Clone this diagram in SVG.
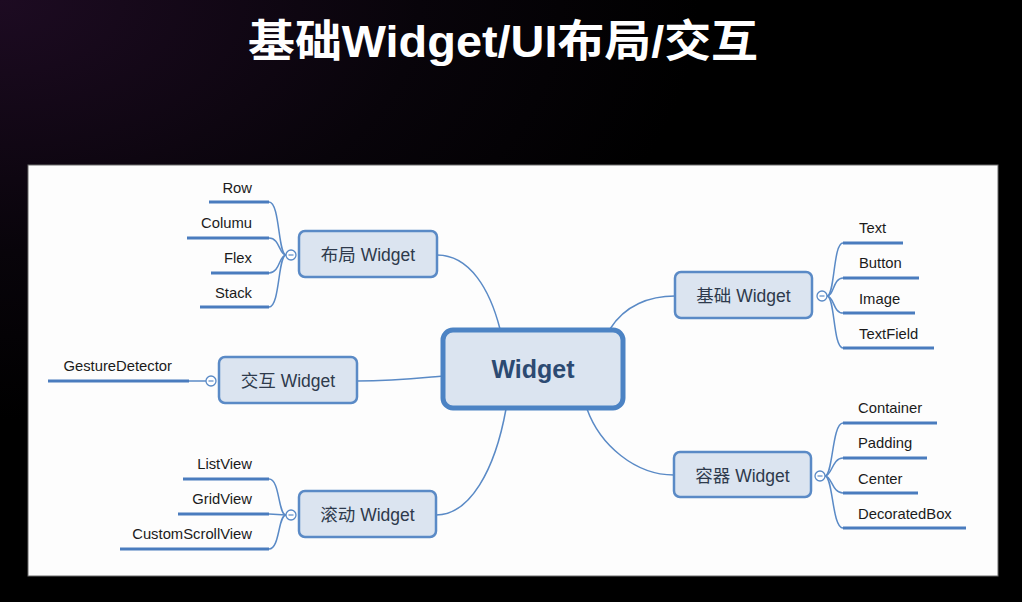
<svg xmlns="http://www.w3.org/2000/svg" width="1022" height="602" viewBox="0 0 1022 602">
  <defs>
    <radialGradient id="bgGlow" cx="0" cy="0" r="1" gradientUnits="userSpaceOnUse" gradientTransform="translate(0 0) scale(700 420)">
      <stop offset="0" stop-color="#1d0b22"/>
      <stop offset="0.6" stop-color="#08040a"/>
      <stop offset="1" stop-color="#000000"/>
    </radialGradient>
  </defs>
  <style>
    .title { font-family: "Liberation Sans", "Noto Sans CJK SC", sans-serif; font-weight: bold; font-size: 44px; fill: #ffffff; }
    .topic { fill: #dbe4f0; stroke: #5a8ac6; stroke-width: 2.5; }
    .root { fill: #dbe4f0; stroke: #4c83c4; stroke-width: 5; }
    .topic-label { font-family: "Liberation Sans", "Noto Sans CJK SC", sans-serif; font-size: 17.5px; fill: #2e3a4c; text-anchor: middle; }
    .root-label { font-family: "Liberation Sans", "Noto Sans CJK SC", sans-serif; font-weight: bold; font-size: 25px; fill: #2c4a72; text-anchor: middle; }
    .leaf { font-family: "Liberation Sans", sans-serif; font-size: 14.8px; fill: #1b1b1b; }
    .leaf-l { text-anchor: end; }
    .bar { stroke: #4a7cbe; stroke-width: 3; fill: none; }
    .link { stroke: #5a8ac6; stroke-width: 1.5; fill: none; }
    .fold { fill: #ffffff; stroke: #5a8ac6; stroke-width: 1.3; }
    .fold-minus { stroke: #5a8ac6; stroke-width: 1.2; }
  </style>

  <!-- backdrop -->
  <rect x="0" y="0" width="1022" height="602" fill="#000000"/>
  <rect x="0" y="0" width="1022" height="602" fill="url(#bgGlow)"/>
  <text class="title" x="503" y="57" text-anchor="middle" textLength="510" lengthAdjust="spacingAndGlyphs">基础Widget/UI布局/交互</text>

  <!-- canvas -->
  <rect x="28" y="165" width="970" height="411" fill="#fdfdfd" stroke="#6b6b6b" stroke-width="1"/>

  <!-- connectors -->
  <g id="connectors">
    <!-- root to topics -->
    <path class="link" d="M437,255 C470,255 490,290 500,329"/>
    <path class="link" d="M357,381 C395,381 420,378 443,376"/>
    <path class="link" d="M436,515 C470,515 495,470 506,409"/>
    <path class="link" d="M610,329 C625,305 650,296 675,296"/>
    <path class="link" d="M587,409 C600,445 635,475 674,475"/>

    <!-- 布局 Widget branches -->
    <path class="link" d="M286,255 C278,255 280,202 269,202"/>
    <path class="link" d="M286,255 C279,255 280,238 269,238"/>
    <path class="link" d="M286,255 C279,255 280,273 269,273"/>
    <path class="link" d="M286,255 C278,255 280,307 269,307"/>

    <!-- 交互 Widget branch -->
    <path class="link" d="M189,381 L206,381"/>

    <!-- 滚动 Widget branches -->
    <path class="link" d="M286,515 C278,515 280,479 269,479"/>
    <path class="link" d="M286,515 L269,514"/>
    <path class="link" d="M286,515 C278,515 280,549 269,549"/>

    <!-- 基础 Widget branches -->
    <path class="link" d="M827,296 C835,296 833,243 843,243"/>
    <path class="link" d="M827,296 C834,296 833,278 843,278"/>
    <path class="link" d="M827,296 C834,296 833,313 843,313"/>
    <path class="link" d="M827,296 C835,296 833,348 843,348"/>

    <!-- 容器 Widget branches -->
    <path class="link" d="M825,476 C833,476 832,423 843,423"/>
    <path class="link" d="M825,476 C832,476 832,458 843,458"/>
    <path class="link" d="M825,476 C832,476 832,493 843,493"/>
    <path class="link" d="M825,476 C833,476 832,528 843,528"/>
  </g>

  <!-- central topic -->
  <g id="node-widget">
    <rect class="root" x="443" y="330" width="180" height="78" rx="10"/>
    <text class="root-label" x="533" y="378">Widget</text>
  </g>

  <!-- 布局 Widget -->
  <g id="node-layout">
    <rect class="topic" x="299" y="231" width="138" height="46" rx="6"/>
    <text class="topic-label" x="368" y="261">布局 Widget</text>
    <circle class="fold" cx="291" cy="255" r="5"/>
    <line class="fold-minus" x1="288.5" y1="255" x2="293.5" y2="255"/>
  </g>
  <g id="leaf-row">
    <line class="bar" x1="209" y1="202" x2="269" y2="202"/>
    <text class="leaf leaf-l" x="252" y="193">Row</text>
  </g>
  <g id="leaf-columu">
    <line class="bar" x1="187" y1="238" x2="269" y2="238"/>
    <text class="leaf leaf-l" x="252" y="228">Columu</text>
  </g>
  <g id="leaf-flex">
    <line class="bar" x1="211" y1="273" x2="269" y2="273"/>
    <text class="leaf leaf-l" x="252" y="263">Flex</text>
  </g>
  <g id="leaf-stack">
    <line class="bar" x1="200" y1="307" x2="269" y2="307"/>
    <text class="leaf leaf-l" x="252" y="298">Stack</text>
  </g>

  <!-- 交互 Widget -->
  <g id="node-interaction">
    <rect class="topic" x="219" y="357" width="138" height="46" rx="6"/>
    <text class="topic-label" x="288" y="387">交互 Widget</text>
    <circle class="fold" cx="211" cy="381" r="5"/>
    <line class="fold-minus" x1="208.5" y1="381" x2="213.5" y2="381"/>
  </g>
  <g id="leaf-gesturedetector">
    <line class="bar" x1="48" y1="381" x2="189" y2="381"/>
    <text class="leaf leaf-l" x="172" y="371">GestureDetector</text>
  </g>

  <!-- 滚动 Widget -->
  <g id="node-scroll">
    <rect class="topic" x="299" y="491" width="137" height="46" rx="6"/>
    <text class="topic-label" x="367.5" y="521">滚动 Widget</text>
    <circle class="fold" cx="291" cy="515" r="5"/>
    <line class="fold-minus" x1="288.5" y1="515" x2="293.5" y2="515"/>
  </g>
  <g id="leaf-listview">
    <line class="bar" x1="183" y1="479" x2="269" y2="479"/>
    <text class="leaf leaf-l" x="252" y="469">ListView</text>
  </g>
  <g id="leaf-gridview">
    <line class="bar" x1="178" y1="514" x2="269" y2="514"/>
    <text class="leaf leaf-l" x="252" y="504">GridView</text>
  </g>
  <g id="leaf-customscrollview">
    <line class="bar" x1="120" y1="549" x2="269" y2="549"/>
    <text class="leaf leaf-l" x="252" y="539">CustomScrollView</text>
  </g>

  <!-- 基础 Widget -->
  <g id="node-basic">
    <rect class="topic" x="675" y="272" width="137" height="46" rx="6"/>
    <text class="topic-label" x="743.5" y="302">基础 Widget</text>
    <circle class="fold" cx="822" cy="296" r="5"/>
    <line class="fold-minus" x1="819.5" y1="296" x2="824.5" y2="296"/>
  </g>
  <g id="leaf-text">
    <line class="bar" x1="843" y1="243" x2="903" y2="243"/>
    <text class="leaf" x="859" y="233">Text</text>
  </g>
  <g id="leaf-button">
    <line class="bar" x1="843" y1="278" x2="919" y2="278"/>
    <text class="leaf" x="859" y="268">Button</text>
  </g>
  <g id="leaf-image">
    <line class="bar" x1="843" y1="313" x2="915" y2="313"/>
    <text class="leaf" x="859" y="304">Image</text>
  </g>
  <g id="leaf-textfield">
    <line class="bar" x1="843" y1="348" x2="934" y2="348"/>
    <text class="leaf" x="859" y="339">TextField</text>
  </g>

  <!-- 容器 Widget -->
  <g id="node-container">
    <rect class="topic" x="674" y="452" width="137" height="45" rx="6"/>
    <text class="topic-label" x="742.5" y="482">容器 Widget</text>
    <circle class="fold" cx="820" cy="476" r="5"/>
    <line class="fold-minus" x1="817.5" y1="476" x2="822.5" y2="476"/>
  </g>
  <g id="leaf-container">
    <line class="bar" x1="843" y1="423" x2="937" y2="423"/>
    <text class="leaf" x="858" y="413">Container</text>
  </g>
  <g id="leaf-padding">
    <line class="bar" x1="843" y1="458" x2="927" y2="458"/>
    <text class="leaf" x="858" y="448">Padding</text>
  </g>
  <g id="leaf-center">
    <line class="bar" x1="843" y1="493" x2="918" y2="493"/>
    <text class="leaf" x="858" y="484">Center</text>
  </g>
  <g id="leaf-decoratedbox">
    <line class="bar" x1="843" y1="528" x2="966" y2="528"/>
    <text class="leaf" x="858" y="519">DecoratedBox</text>
  </g>
</svg>
